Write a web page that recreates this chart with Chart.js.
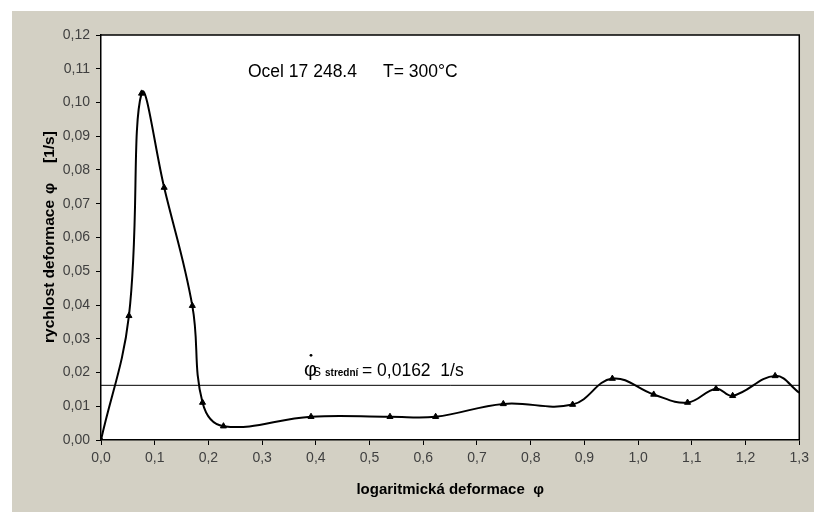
<!DOCTYPE html>
<html>
<head>
<meta charset="utf-8">
<script src="https://cdn.jsdelivr.net/npm/chart.js@4/dist/chart.umd.min.js"></script>
<style>
  html, body { margin: 0; padding: 0; background: #fff; }
</style>
</head>
<body>
<canvas id="chart" width="814" height="512"></canvas>
<script>
// Data
const strain = [0, 0.052, 0.0755, 0.1176, 0.170, 0.189, 0.228, 0.391, 0.538, 0.623, 0.749, 0.878, 0.952, 1.029, 1.092, 1.145, 1.176, 1.255, 1.30];
const rate = [0, 0.0368, 0.1027, 0.0748, 0.0398, 0.0111, 0.0041, 0.0069, 0.0069, 0.0069, 0.0107, 0.0105, 0.0182, 0.0135, 0.0111, 0.0152, 0.0131, 0.0190, 0.0140];
const meanRate = 0.0162;
const xLimits = [0, 1.3];
const yLimits = [0, 0.12];
const xStep = 0.1;
const yStep = 0.01;

const FONT = '"Liberation Sans", Arial, sans-serif';

const points = strain.map((s, i) => ({ x: s, y: rate[i] }));
const meanLine = xLimits.map(v => ({ x: v, y: meanRate }));
// last point sits on the right border, its marker is not visible
const radii = strain.map((s, i) => (i === strain.length - 1 ? 0 : 3.5));

// Background, plot frame and text labels
const decor = {
    id: 'decor',
    beforeDraw(chart) {
        const { ctx, chartArea: a } = chart;
        ctx.save();
        ctx.fillStyle = '#fff';
        ctx.fillRect(0, 0, chart.width, chart.height);
        ctx.fillStyle = '#d3d0c4';
        ctx.fillRect(12, 11, chart.width - 12, chart.height - 11);
        ctx.fillStyle = '#fff';
        ctx.fillRect(a.left, a.top, a.right - a.left, a.bottom - a.top);
        ctx.restore();
    },
    afterDraw(chart) {
        const { ctx, chartArea: a, scales } = chart;
        ctx.save();
        ctx.strokeStyle = '#000';
        ctx.lineWidth = 1.5;
        ctx.beginPath();
        ctx.moveTo(a.left, a.top);
        ctx.lineTo(a.right, a.top);
        ctx.lineTo(a.right, a.bottom);
        ctx.stroke();

        ctx.fillStyle = '#000';
        ctx.textBaseline = 'alphabetic';
        ctx.font = '17.5px ' + FONT;
        ctx.fillText('Ocel 17 248.4', 248, 77);
        ctx.fillText('T= 300°C', 383, 77);

        // y axis title, reads bottom to top
        ctx.save();
        ctx.translate(54, 343);
        ctx.rotate(-Math.PI / 2);
        ctx.font = 'bold 15.5px ' + FONT;
        ctx.fillText('rychlost deformace', 0, 0);
        ctx.fillText('φ', 149, 0);
        ctx.fillText('[1/s]', 180, 0);
        ctx.restore();

        // mean strain rate label, just above the mean line
        const base = scales.y.getPixelForValue(meanRate) - 9;
        ctx.font = '20px ' + FONT;
        ctx.fillText('φ', 304, base);
        ctx.beginPath();
        ctx.arc(311, base - 21, 1.4, 0, Math.PI * 2);
        ctx.fill();
        ctx.font = '12px ' + FONT;
        ctx.fillText('S', 313, base);
        ctx.font = 'bold 10px ' + FONT;
        ctx.fillText('strední', 325, base);
        ctx.font = '17.5px ' + FONT;
        ctx.fillText('= 0,0162  1/s', 362, base);
        ctx.restore();
    }
};

const tickFont = { family: FONT, size: 14 };
const titleFont = { family: FONT, size: 15, weight: 'bold' };

new Chart(document.getElementById('chart'), {
    type: 'line',
    data: {
        datasets: [
            {
                data: points,
                borderColor: '#000',
                borderWidth: 2,
                tension: 0.4,
                pointStyle: 'triangle',
                pointRadius: radii,
                pointBackgroundColor: '#000',
                pointBorderColor: '#000',
                pointBorderWidth: 1
            },
            {
                data: meanLine,
                borderColor: '#000',
                borderWidth: 1,
                pointRadius: 0,
                tension: 0
            }
        ]
    },
    options: {
        responsive: false,
        animation: false,
        layout: { padding: { top: 35, right: 13, bottom: 0, left: 0 } },
        plugins: {
            legend: { display: false },
            tooltip: { enabled: false }
        },
        scales: {
            x: {
                type: 'linear',
                min: xLimits[0],
                max: xLimits[1],
                ticks: {
                    stepSize: xStep,
                    autoSkip: false,
                    maxRotation: 0,
                    padding: 5,
                    color: '#404040',
                    font: tickFont,
                    callback: v => v.toFixed(1).replace('.', ',')
                },
                grid: { drawOnChartArea: false, drawTicks: true, tickLength: 5, tickColor: '#000' },
                border: { color: '#000', width: 1.5 },
                title: {
                    display: true,
                    text: 'logaritmická deformace  φ',
                    color: '#000',
                    font: titleFont,
                    padding: { top: 0, bottom: 13 }
                },
                afterFit: s => { s.height = 72; }
            },
            y: {
                type: 'linear',
                min: yLimits[0],
                max: yLimits[1],
                ticks: {
                    stepSize: yStep,
                    padding: 6,
                    color: '#404040',
                    font: tickFont,
                    callback: v => v.toFixed(2).replace('.', ',')
                },
                grid: { drawOnChartArea: false, drawTicks: true, tickLength: 5, tickColor: '#000' },
                border: { color: '#000', width: 1.5 },
                afterFit: s => { s.width = 101; }
            }
        }
    },
    plugins: [decor]
});
</script>
</body>
</html>
